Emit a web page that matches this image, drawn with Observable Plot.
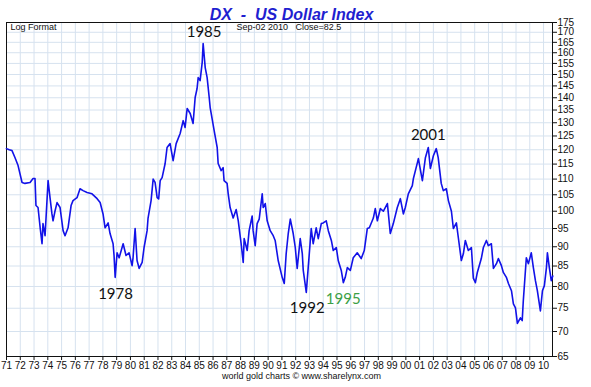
<!DOCTYPE html>
<html>
<head>
<meta charset="utf-8">
<script src="https://cdn.jsdelivr.net/npm/d3@7"></script>
<script src="https://cdn.jsdelivr.net/npm/@observablehq/plot@0.6"></script>
<style>
  html, body { margin: 0; padding: 0; background: #fff; }
  #chart svg { display: block; }
</style>
</head>
<body>
<div id="chart"></div>
<script>
// Decimal year and DX value
const years = [
  1971.0, 1971.2, 1971.4, 1971.62, 1971.84, 1972.13, 1972.34, 1972.71, 1972.93, 1973.07,
  1973.14, 1973.29, 1973.45, 1973.58, 1973.65, 1973.8, 1974.02, 1974.16, 1974.3, 1974.38,
  1974.52, 1974.67, 1974.89, 1975.11, 1975.25, 1975.47, 1975.69, 1975.83, 1976.12, 1976.34,
  1976.56, 1976.85, 1977.21, 1977.58, 1977.8, 1978.01, 1978.16, 1978.38, 1978.52, 1978.74,
  1978.81, 1978.89, 1979.03, 1979.18, 1979.47, 1979.68, 1979.9, 1980.12, 1980.19, 1980.34,
  1980.48, 1980.63, 1980.85, 1980.99, 1981.21, 1981.28, 1981.5, 1981.65, 1981.79, 1981.94,
  1982.05, 1982.16, 1982.3, 1982.52, 1982.66, 1982.88, 1983.1, 1983.32, 1983.61, 1983.83,
  1983.97, 1984.12, 1984.34, 1984.55, 1984.7, 1984.84, 1984.92, 1985.06, 1985.21, 1985.28,
  1985.43, 1985.57, 1985.72, 1985.79, 1985.93, 1986.08, 1986.3, 1986.37, 1986.59, 1986.73,
  1986.8, 1987.02, 1987.1, 1987.24, 1987.46, 1987.68, 1987.83, 1988.04, 1988.19, 1988.26,
  1988.48, 1988.62, 1988.84, 1988.91, 1989.06, 1989.2, 1989.35, 1989.57, 1989.64, 1989.79,
  1989.93, 1990.15, 1990.37, 1990.51, 1990.73, 1991.02, 1991.17, 1991.31, 1991.46, 1991.61,
  1991.82, 1991.97, 1992.11, 1992.33, 1992.48, 1992.55, 1992.77, 1992.91, 1993.13, 1993.27,
  1993.49, 1993.64, 1993.86, 1994.0, 1994.22, 1994.37, 1994.59, 1994.73, 1994.95, 1995.09,
  1995.31, 1995.46, 1995.6, 1995.75, 1995.97, 1996.18, 1996.47, 1996.76, 1996.98, 1997.2,
  1997.35, 1997.64, 1997.78, 1997.93, 1998.15, 1998.37, 1998.66, 1998.87, 1999.09, 1999.38,
  1999.6, 1999.82, 1999.96, 2000.18, 2000.47, 2000.55, 2000.84, 2000.91, 2001.2, 2001.42,
  2001.63, 2001.78, 2002.0, 2002.21, 2002.35, 2002.57, 2002.72, 2002.94, 2003.09, 2003.31,
  2003.45, 2003.67, 2003.81, 2004.03, 2004.18, 2004.32, 2004.54, 2004.76, 2004.9, 2005.05,
  2005.19, 2005.48, 2005.63, 2005.85, 2005.99, 2006.21, 2006.36, 2006.58, 2006.72, 2006.94,
  2007.08, 2007.3, 2007.45, 2007.67, 2007.81, 2007.96, 2008.1, 2008.32, 2008.45, 2008.53,
  2008.75, 2008.9, 2009.11, 2009.26, 2009.41, 2009.55, 2009.77, 2009.92, 2010.06, 2010.21,
  2010.28, 2010.42, 2010.56, 2010.67
];
const dxValues = [
  120.4, 120.0, 119.7, 117.2, 114.5, 108.9, 108.6, 108.9, 110.2, 110.2,
  101.7, 101.1, 95.0, 90.8, 96.4, 93.0, 109.5, 104.1, 99.2, 97.2,
  100.0, 102.6, 101.1, 94.4, 93.0, 95.2, 101.7, 103.2, 104.1, 106.9,
  106.3, 105.7, 105.3, 103.8, 102.6, 99.2, 95.2, 96.6, 93.6, 90.8,
  87.7, 82.2, 88.4, 87.1, 90.8, 87.7, 88.4, 85.1, 87.1, 95.0,
  86.4, 84.4, 85.9, 89.8, 94.4, 98.0, 103.2, 110.0, 108.9, 104.1,
  103.7, 109.5, 110.5, 115.2, 120.8, 122.2, 116.2, 122.2, 125.9, 130.8,
  128.2, 135.6, 133.6, 129.7, 140.1, 143.9, 148.6, 147.3, 155.4, 164.4,
  153.1, 148.6, 140.1, 136.0, 131.6, 127.0, 120.8, 115.2, 112.8, 113.8,
  109.5, 108.6, 105.3, 101.1, 98.0, 100.5, 97.2, 90.8, 85.9, 92.2,
  89.0, 94.4, 98.6, 94.4, 90.3, 96.4, 97.7, 105.3, 101.1, 102.3,
  97.2, 94.4, 93.0, 91.7, 86.4, 82.2, 80.7, 88.2, 93.6, 97.7,
  93.6, 89.8, 84.4, 92.2, 88.2, 83.9, 78.6, 84.6, 95.0, 90.8,
  95.2, 92.2, 96.4, 96.6, 97.2, 94.4, 91.7, 89.0, 89.8, 86.4,
  83.9, 80.9, 82.2, 84.6, 83.9, 87.1, 88.4, 86.9, 89.0, 95.0,
  95.2, 98.0, 100.8, 97.2, 100.8, 100.0, 102.3, 93.6, 96.4, 101.1,
  103.8, 99.2, 101.1, 105.3, 107.9, 110.2, 115.5, 116.9, 109.5, 117.2,
  120.8, 113.5, 117.9, 120.4, 117.2, 108.6, 106.3, 106.9, 103.2, 100.0,
  95.0, 96.6, 92.5, 86.4, 88.2, 91.7, 89.0, 89.8, 82.0, 80.9,
  83.4, 86.9, 89.8, 91.7, 90.3, 90.8, 84.4, 85.6, 86.9, 85.1,
  83.4, 82.2, 80.7, 79.0, 76.0, 75.1, 71.7, 72.9, 72.3, 76.7,
  87.1, 85.6, 88.4, 84.6, 81.4, 79.0, 74.4, 79.0, 80.2, 84.6,
  88.4, 84.6, 81.4, 82.5
];

const xTicks = d3.range(1971, 2011);
const yTicks = [65, 70, 75, 80, 85, 90, 95, 100, 105, 110, 115, 120, 125, 130, 135, 140, 145, 150, 155, 160, 165, 170, 175];

const noteText = ["1985", "1978", "1992", "1995", "2001"];
const noteYear = [1985.35, 1978.92, 1992.84, 1995.45, 2001.63];
const noteValue = [169.9, 78.3, 75.0, 77.0, 125.2];
const noteColor = ["#111", "#111", "#111", "#3c9f46", "#111"];

const titleText = "DX  -  US Dollar Index";
const leftNote = "Log Format";
const closeNote = "Sep-02 2010   Close=82.5";
const captionText = "world gold charts \u00a9 www.sharelynx.com";

const series = years.map((t, i) => ({t, v: dxValues[i]}));
const notes = noteText.map((s, i) => ({s, t: noteYear[i], v: noteValue[i], c: noteColor[i]}));
const yy = d => String(d % 100).padStart(2, "0");

const chart = Plot.plot({
  width: 591,
  height: 387,
  marginTop: 22,
  marginLeft: 6,
  marginRight: 39,
  marginBottom: 31,
  style: {fontFamily: "'Liberation Sans', Arial, sans-serif", fontSize: "10px", background: "#fff", color: "#111", overflow: "visible"},
  x: {domain: [1971, 2010.65], label: null},
  y: {type: "log", domain: [65, 175], label: null},
  marks: [
    Plot.gridX(xTicks, {stroke: "#d6e2ef", strokeOpacity: 1}),
    Plot.gridY(yTicks, {stroke: "#d6e2ef", strokeOpacity: 1}),
    Plot.axisX(xTicks, {label: null, tickSize: 4, tickPadding: 1, text: yy, fontSize: 10, fill: "#111"}),
    Plot.axisY(yTicks, {label: null, anchor: "right", tickSize: 4, tickPadding: 1, text: d => String(d), fontSize: 10, fill: "#111"}),
    Plot.frame({stroke: "#111"}),
    Plot.line(series, {x: "t", y: "v", stroke: "#1212e8", strokeWidth: 1.6}),
    Plot.text(notes, {x: "t", y: "v", text: "s", fill: "c", fontFamily: "Lato, 'Open Sans', sans-serif", fontSize: 15, textAnchor: "middle", lineAnchor: "middle"}),
    Plot.text([titleText], {frameAnchor: "top", dx: 12, dy: -3, lineAnchor: "bottom", fontSize: 16, fontWeight: "bold", fontStyle: "italic", fill: "#1f1fd0", fontFamily: "'Liberation Sans', Arial, sans-serif"}),
    Plot.text([leftNote], {frameAnchor: "top-left", dx: 4, dy: 1, lineAnchor: "top", textAnchor: "start", fontSize: 9, fill: "#111"}),
    Plot.text([closeNote], {frameAnchor: "top-left", dx: 230, dy: 1, lineAnchor: "top", textAnchor: "start", fontSize: 9, fill: "#111"}),
    Plot.text([captionText], {frameAnchor: "bottom", dx: 22, dy: 16, lineAnchor: "top", fontSize: 9, fill: "#111"})
  ]
});
document.getElementById("chart").append(chart);
</script>
</body>
</html>
